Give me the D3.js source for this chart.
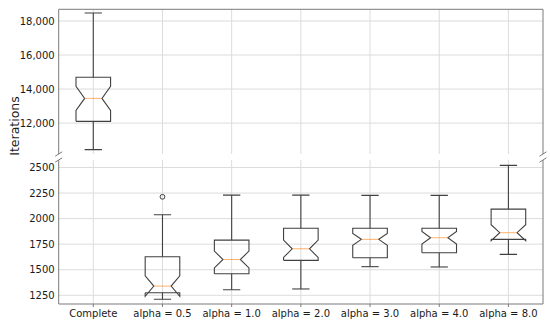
<!DOCTYPE html>
<html><head><meta charset="utf-8">
<script src="https://cdn.jsdelivr.net/npm/d3@7/dist/d3.min.js"></script>
<style>body{margin:0;background:#fff}svg{display:block;font-family:"DejaVu Sans",sans-serif}</style>
</head><body><svg id="c" width="550" height="324"></svg>
<script>
const categories = ["Complete","alpha = 0.5","alpha = 1.0","alpha = 2.0","alpha = 3.0","alpha = 4.0","alpha = 8.0"];
const whiskerLow  = [10440, 1211, 1305, 1312, 1530, 1527, 1650];
const q1          = [12100, 1275, 1461, 1592, 1617, 1666, 1797];
const median      = [13450, 1340, 1600, 1705, 1797, 1813, 1862];
const q3          = [14690, 1627, 1790, 1905, 1905, 1905, 2093];
const whiskerHigh = [18470, 2037, 2230, 2230, 2227, 2227, 2520];
const notchLow    = [12740, 1240, 1518, 1620, 1739, 1751, 1784];
const notchHigh   = [14160, 1440, 1682, 1790, 1855, 1875, 1940];
const outliers    = [[], [2213], [], [], [], [], []];
const topTicks    = [12000, 14000, 16000, 18000];
const bottomTicks = [1250, 1500, 1750, 2000, 2250, 2500];
const yLabel = "Iterations";

const svg = d3.select("#c");
const L = 58.7, R = 543;
const x = d3.scaleLinear().domain([0.5, categories.length + 0.5]).range([L, R]);
const panels = [
  {top: 9.3, bottom: 154, y: d3.scaleLinear().domain([10182, 18686]).range([154, 9.3]), ticks: topTicks, fmt: d3.format(","), id: "t"},
  {top: 160, bottom: 304, y: d3.scaleLinear().domain([1165, 2573]).range([304, 160]), ticks: bottomTicks, fmt: d3.format("d"), id: "b"}
];
const boxColor = "#404040", spineColor = "#7a7a7a", gridColor = "#dcdcdc", textColor = "#1a1a1a";
const hw = 0.25, nw = 0.125, cw = 0.125;

panels.forEach(p => {
  svg.append("clipPath").attr("id", "clip" + p.id).append("rect")
    .attr("x", L).attr("y", p.top).attr("width", R - L).attr("height", p.bottom - p.top);
  const g = svg.append("g");
  const grid = g.append("g");
  p.ticks.forEach(t => grid.append("line").attr("x1", L).attr("x2", R)
    .attr("y1", p.y(t)).attr("y2", p.y(t)).attr("stroke", gridColor).attr("stroke-width", 1));
  categories.forEach((c, i) => grid.append("line").attr("x1", x(i + 1)).attr("x2", x(i + 1))
    .attr("y1", p.top).attr("y2", p.bottom).attr("stroke", gridColor).attr("stroke-width", 1));
  const ax = d3.axisLeft(p.y).tickValues(p.ticks).tickFormat(p.fmt).tickSize(0).tickPadding(4);
  const axg = g.append("g").attr("transform", `translate(${L},0)`).call(ax);
  axg.select(".domain").remove();
  axg.selectAll("text").attr("font-size", "10px").attr("fill", textColor).attr("font-family", "DejaVu Sans");
  const bg = g.append("g").attr("clip-path", `url(#clip${p.id})`);
  categories.forEach((c, i) => {
    const cx = i + 1, y = p.y;
    const pts = [
      [cx - hw, q1[i]], [cx - hw, notchLow[i]], [cx - nw, median[i]], [cx - hw, notchHigh[i]],
      [cx - hw, q3[i]], [cx + hw, q3[i]], [cx + hw, notchHigh[i]], [cx + nw, median[i]],
      [cx + hw, notchLow[i]], [cx + hw, q1[i]], [cx - hw, q1[i]]
    ];
    bg.append("path").attr("d", d3.line().x(d => x(d[0])).y(d => y(d[1]))(pts))
      .attr("fill", "none").attr("stroke", boxColor).attr("stroke-width", 1.1);
    bg.append("line").attr("x1", x(cx)).attr("x2", x(cx)).attr("y1", y(q1[i])).attr("y2", y(whiskerLow[i])).attr("stroke", boxColor).attr("stroke-width", 1.1);
    bg.append("line").attr("x1", x(cx)).attr("x2", x(cx)).attr("y1", y(q3[i])).attr("y2", y(whiskerHigh[i])).attr("stroke", boxColor).attr("stroke-width", 1.1);
    [whiskerLow[i], whiskerHigh[i]].forEach(v => bg.append("line")
      .attr("x1", x(cx - cw)).attr("x2", x(cx + cw)).attr("y1", y(v)).attr("y2", y(v)).attr("stroke", boxColor).attr("stroke-width", 1.1));
    bg.append("line").attr("x1", x(cx - nw)).attr("x2", x(cx + nw)).attr("y1", y(median[i])).attr("y2", y(median[i]))
      .attr("stroke", "#ff7f0e").attr("stroke-width", 1).attr("stroke-opacity", 0.6);
    outliers[i].forEach(v => bg.append("circle").attr("cx", x(cx)).attr("cy", y(v)).attr("r", 2.4)
      .attr("fill", "none").attr("stroke", boxColor).attr("stroke-width", 1));
  });
  g.append("line").attr("x1", L).attr("x2", L).attr("y1", p.top).attr("y2", p.bottom).attr("stroke", spineColor);
  g.append("line").attr("x1", R).attr("x2", R).attr("y1", p.top).attr("y2", p.bottom).attr("stroke", spineColor);
  const ey = p.id === "t" ? p.top : p.bottom;
  g.append("line").attr("x1", L).attr("x2", R).attr("y1", ey).attr("y2", ey).attr("stroke", spineColor);
  const by = p.id === "t" ? p.bottom : p.top;
  [L, R].forEach(bx => g.append("line").attr("x1", bx - 3.5).attr("x2", bx + 3.5)
    .attr("y1", by + 2.2).attr("y2", by - 2.2).attr("stroke", spineColor));
});

const pb = panels[1];
const xg = svg.append("g");
categories.forEach((c, i) => {
  xg.append("line").attr("x1", x(i + 1)).attr("x2", x(i + 1)).attr("y1", pb.bottom).attr("y2", pb.bottom + 3)
    .attr("stroke", spineColor);
  xg.append("text").attr("x", x(i + 1)).attr("y", 316.5).attr("text-anchor", "middle")
    .attr("font-size", "10px").attr("fill", textColor).text(c);
});
svg.append("text").attr("transform", "translate(19,126) rotate(-90)").attr("text-anchor", "middle")
  .attr("font-size", "12.5px").attr("fill", textColor).text(yLabel);
</script></body></html>
